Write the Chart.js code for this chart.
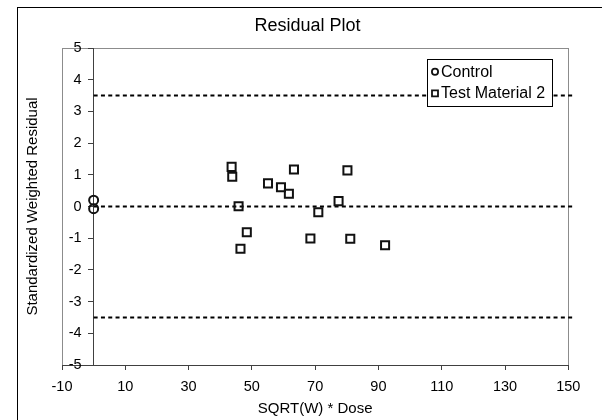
<!DOCTYPE html>
<html>
<head>
<meta charset="utf-8">
<script src="https://cdn.jsdelivr.net/npm/chart.js@4"></script>
<style>
html,body{margin:0;padding:0;background:#fff;}
#wrap{width:602px;height:420px;position:relative;}
</style>
</head>
<body>
<div id="wrap"><canvas id="c" width="602" height="420"></canvas></div>
<script>
// ---- data ----
const chartTitle = 'Residual Plot';
const xAxisTitle = 'SQRT(W) * Dose';
const yAxisTitle = 'Standardized Weighted Residual';
const xTicks = [-10, 10, 30, 50, 70, 90, 110, 130, 150];
const yTicks = [-5, -4, -3, -2, -1, 0, 1, 2, 3, 4, 5];
const controlLabel = 'Control';
const controlX = [0, 0];
const controlY = [0.20, -0.07];
const testLabel = 'Test Material 2';
const testX = [43.6, 43.8, 63.3, 80.2, 55.1, 59.2, 61.7, 45.8, 77.4, 71.0, 48.4, 46.4, 68.5, 81.1, 92.1];
const testY = [1.25, 0.94, 1.17, 1.14, 0.73, 0.61, 0.40, 0.01, 0.17, -0.18, -0.81, -1.33, -1.01, -1.02, -1.22];
const refLevels = [3.5, 0, -3.5];
const refLineX = [0, 152];

const FONT = "'Liberation Sans', Arial, sans-serif";
const pts = (xs, ys) => xs.map((x, i) => ({x: x, y: ys[i]}));

const datasets = [
  {label: controlLabel, data: pts(controlX, controlY), pointStyle: 'circle', pointRadius: 4.5,
   pointBorderWidth: 2, pointBorderColor: '#111', pointBackgroundColor: 'rgba(0,0,0,0)', showLine: false, legendMarker: 'circle'},
  {label: testLabel, data: pts(testX, testY), pointStyle: 'rect', pointRadius: 5.7,
   pointBorderWidth: 2, pointBorderColor: '#111', pointBackgroundColor: 'rgba(0,0,0,0)', showLine: false, legendMarker: 'rect'}
];
refLevels.forEach(lv => {
  datasets.push({label: 'ref' + lv, isRef: true, data: refLineX.map(x => ({x: x, y: lv})), showLine: true,
    borderColor: '#000', borderWidth: 2, borderDash: [4, 3.3], pointRadius: 0, clip: false});
});

const framePlugin = {
  id: 'frame',
  beforeDraw(chart) {
    const ctx = chart.ctx, a = chart.chartArea;
    ctx.save();
    ctx.fillStyle = '#fff';
    ctx.fillRect(0, 0, chart.width, chart.height);
    ctx.strokeStyle = '#000';
    ctx.lineWidth = 1;
    ctx.strokeRect(17.5, 7.5, 900, 900);
    ctx.strokeStyle = '#8c8c8c';
    ctx.strokeRect(Math.round(a.left) + 0.5, Math.round(a.top) + 0.5,
      Math.round(a.right) - Math.round(a.left), Math.round(a.bottom) - Math.round(a.top));
    ctx.restore();
  }
};

const legendPlugin = {
  id: 'boxLegend',
  afterDraw(chart) {
    const ctx = chart.ctx;
    const items = chart.data.datasets.filter(d => !d.isRef);
    const bx = 427.5, by = 59.5, bw = 125, bh = 47;
    ctx.save();
    ctx.fillStyle = '#fff';
    ctx.fillRect(bx, by, bw, bh);
    ctx.strokeStyle = '#000';
    ctx.lineWidth = 1;
    ctx.strokeRect(bx, by, bw, bh);
    ctx.font = '16px ' + FONT;
    ctx.textBaseline = 'middle';
    ctx.textAlign = 'left';
    items.forEach((d, i) => {
      const cy = 71.7 + i * 21.6, cx = 435;
      ctx.strokeStyle = '#111';
      ctx.lineWidth = 1.8;
      ctx.beginPath();
      if (d.legendMarker === 'circle') ctx.arc(cx, cy, 3.1, 0, Math.PI * 2);
      else ctx.rect(cx - 3, cy - 3, 6, 6);
      ctx.stroke();
      ctx.fillStyle = '#000';
      ctx.fillText(d.label, 441, cy + 0.5);
    });
    ctx.restore();
  }
};

new Chart(document.getElementById('c'), {
  type: 'scatter',
  data: {datasets: datasets},
  plugins: [framePlugin, legendPlugin],
  options: {
    responsive: false,
    animation: false,
    devicePixelRatio: 1,
    layout: {padding: {top: 0, left: 13, right: 0, bottom: 0}},
    plugins: {
      legend: {display: false},
      tooltip: {enabled: false},
      title: {display: true, text: chartTitle, color: '#000',
        font: {family: FONT, size: 18, weight: 'normal'}, padding: {top: 15.7, bottom: 10.7}}
    },
    scales: {
      x: {
        type: 'linear', position: 'bottom', min: -10, max: 150,
        afterBuildTicks: s => { s.ticks = xTicks.map(v => ({value: v})); },
        grid: {drawOnChartArea: false, drawTicks: true, tickLength: 5, color: '#404040'},
        border: {display: true, color: '#404040', width: 1},
        ticks: {color: '#000', font: {family: FONT, size: 14.5}, padding: 7.8, maxRotation: 0, autoSkip: false},
        title: {display: true, text: xAxisTitle, color: '#000', font: {family: FONT, size: 15},
          padding: {top: -3, bottom: 2}}
      },
      y: {
        type: 'linear', position: {x: 0}, min: -5, max: 5,
        afterBuildTicks: s => { s.ticks = yTicks.map(v => ({value: v})); },
        grid: {drawOnChartArea: false, drawTicks: true, tickLength: 5, color: '#404040'},
        border: {display: true, color: '#404040', width: 1},
        ticks: {color: '#000', font: {family: FONT, size: 14.5}, callback: v => v + '   '},
        title: {display: false}
      },
      yTitle: {
        type: 'linear', axis: 'y', position: 'left', display: true,
        ticks: {display: false}, grid: {display: false, drawTicks: false}, border: {display: false},
        title: {display: true, text: yAxisTitle, color: '#000', font: {family: FONT, size: 15},
          padding: {top: 11, bottom: 20}}
      },
      yRightPad: {
        type: 'linear', axis: 'y', position: 'right', display: true,
        ticks: {display: false}, grid: {display: false, drawTicks: false}, border: {display: false},
        title: {display: false},
        afterFit: s => { s.width = 33.7; }
      }
    }
  }
});
</script>
</body>
</html>
